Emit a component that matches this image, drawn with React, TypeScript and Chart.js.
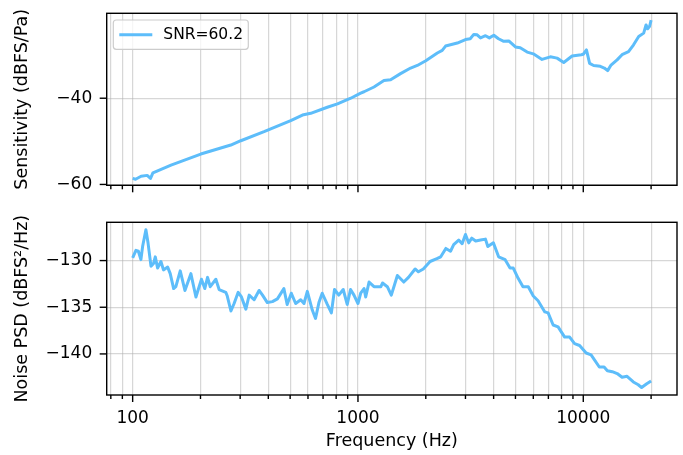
import React, { useEffect, useRef } from "react";
import { Chart, registerables } from "chart.js";

Chart.register(...registerables);

// ---- data ----
const sensFreq = [100, 103, 109, 116, 120, 123, 148, 200.6, 272.7, 302, 383, 503, 567, 617, 731, 811, 929, 1028, 1064, 1178, 1304, 1396, 1545, 1713, 1834, 2000, 2250, 2366, 2448, 2760, 3000, 3150, 3266, 3380, 3499, 3683, 3830, 4009, 4205, 4437, 4670, 5000, 5250, 5636, 6000, 6561, 7144, 7652, 8190, 8920, 9800, 10000, 10330, 10670, 11120, 11900, 12400, 12830, 13280, 14130, 14860, 15880, 16720, 17620, 18540, 18990, 19300, 19700, 20000];
const sensValues = [-58.6, -58.8, -58.1, -57.9, -58.6, -57.3, -55.5, -52.95, -50.86, -49.86, -47.77, -45.2, -43.9, -43.5, -42.1, -41.3, -40.0, -38.8, -38.5, -37.4, -35.9, -35.7, -34.3, -33.0, -32.4, -31.3, -29.5, -28.9, -27.9, -27.2, -26.4, -26.2, -25.2, -25.3, -26.0, -25.5, -26.0, -25.4, -26.2, -26.8, -26.7, -28.1, -28.3, -29.3, -29.7, -31.0, -30.4, -30.7, -31.7, -30.2, -29.9, -29.8, -28.8, -31.9, -32.4, -32.6, -33.0, -33.6, -32.3, -31.1, -29.9, -29.2, -27.6, -25.7, -24.9, -23.0, -23.9, -23.3, -21.9];

const noiseFreq = [100, 103.4, 106, 108.8, 110.7, 114.5, 117, 120.6, 123.8, 126, 129, 133.5, 137, 143, 146.8, 152, 155.5, 162.6, 170.6, 181.3, 190.9, 202, 209, 215, 221, 234, 242, 259, 263, 273, 282, 294, 304, 318, 329, 346, 364, 377, 396, 417, 439, 469, 485, 506, 529, 557, 576, 596, 627, 648, 671, 694, 731, 762, 787, 822, 860, 896, 927, 960, 1000, 1028, 1064, 1082, 1120, 1178, 1264, 1285, 1350, 1406, 1496, 1597, 1676, 1793, 1855, 1950, 2090, 2240, 2330, 2455, 2575, 2660, 2800, 2900, 3000, 3100, 3200, 3330, 3500, 3680, 3770, 3990, 4210, 4500, 4730, 4890, 5140, 5400, 5700, 6000, 6300, 6750, 6980, 7350, 7730, 8270, 8700, 9150, 9630, 10300, 10830, 11780, 12370, 12790, 13450, 14140, 14870, 15640, 16680, 17540, 18150, 19130, 20000];
const noiseValues = [-129.7, -128.9, -129.0, -129.9, -128.5, -126.7, -128.1, -130.6, -130.3, -129.6, -130.8, -130.1, -131.0, -130.7, -131.4, -133.0, -132.8, -131.1, -133.2, -131.4, -133.9, -132.0, -133.0, -131.8, -132.8, -132.0, -133.1, -133.4, -133.8, -135.4, -134.6, -133.4, -133.9, -135.2, -133.7, -134.2, -133.2, -133.7, -134.5, -134.4, -134.1, -133.0, -134.7, -133.5, -134.6, -134.2, -134.6, -133.3, -135.3, -136.2, -134.5, -133.5, -134.7, -135.6, -133.1, -133.7, -133.1, -134.7, -133.1, -133.7, -134.6, -133.5, -133.0, -133.9, -132.3, -132.8, -132.8, -132.4, -132.8, -133.7, -131.6, -132.3, -131.8, -130.9, -131.2, -130.9, -130.1, -129.8, -129.6, -128.7, -129.0, -128.3, -127.8, -128.2, -127.2, -128.1, -127.6, -127.9, -127.8, -127.7, -128.5, -128.1, -129.6, -129.9, -130.8, -130.8, -131.9, -132.8, -132.8, -133.8, -134.3, -135.5, -135.6, -136.9, -137.1, -138.2, -138.2, -138.9, -139.1, -139.9, -140.1, -141.4, -141.4, -141.8, -141.9, -142.1, -142.5, -142.4, -143.0, -143.3, -143.6, -143.2, -142.9];

const xMajorTicks = [100, 1000, 10000];
const xMinorTicks = [80, 90, 200, 300, 400, 500, 600, 700, 800, 900, 2000, 3000, 4000, 5000, 6000, 7000, 8000, 9000, 20000];
const topYTicks = [-60, -40];
const bottomYTicks = [-140, -135, -130];
const legendLabel = "SNR=60.2";
const xTitle = "Frequency (Hz)";
const topYTitle = "Sensitivity (dBFS/Pa)";
const bottomYTitle = "Noise PSD (dBFS²/Hz)";

const X_MIN = 76.7;
const X_MAX = 26060;

const LINE_COLOR = "#5dbdfa";
const GRID_COLOR = "rgba(176,176,176,0.5)";
const FONT = "'DejaVu Sans', sans-serif";
const W = 683;
const TOP_H = 205;
const BOT_H = 250;

const allXTicks = [...xMinorTicks, ...xMajorTicks].sort((a, b) => a - b);
const fmt = (v: number) => String(v).replace("-", "\u2212");

const framePlugin = {
  id: "frameTicks",
  afterDraw(chart: any) {
    const { ctx, chartArea } = chart;
    const { left, right, top, bottom } = chartArea;
    const xs = chart.scales.x;
    const ys = chart.scales.y;
    ctx.save();
    ctx.strokeStyle = "#000";
    ctx.lineWidth = 1.4;
    for (const v of allXTicks) {
      const px = xs.getPixelForValue(v);
      if (px < left - 0.5 || px > right + 0.5) continue;
      const len = xMajorTicks.includes(v) ? 7 : 4;
      ctx.beginPath();
      ctx.moveTo(px, bottom);
      ctx.lineTo(px, bottom + len);
      ctx.stroke();
    }
    for (const t of ys.ticks) {
      const py = ys.getPixelForValue(t.value);
      ctx.beginPath();
      ctx.moveTo(left, py);
      ctx.lineTo(left - 7, py);
      ctx.stroke();
    }
    ctx.strokeRect(left, top, right - left, bottom - top);
    ctx.restore();
  },
};

const legendPlugin = {
  id: "boxLegend",
  afterDraw(chart: any) {
    if (!chart.options.plugins.boxLegend?.show) return;
    const { ctx, chartArea } = chart;
    const x0 = chartArea.left + 6.6;
    const y0 = chartArea.top + 6.7;
    const w = 135;
    const h = 29.3;
    const r = 3;
    ctx.save();
    ctx.beginPath();
    ctx.moveTo(x0 + r, y0);
    ctx.arcTo(x0 + w, y0, x0 + w, y0 + h, r);
    ctx.arcTo(x0 + w, y0 + h, x0, y0 + h, r);
    ctx.arcTo(x0, y0 + h, x0, y0, r);
    ctx.arcTo(x0, y0, x0 + w, y0, r);
    ctx.closePath();
    ctx.fillStyle = "rgba(255,255,255,0.8)";
    ctx.fill();
    ctx.strokeStyle = "#cccccc";
    ctx.lineWidth = 1.2;
    ctx.stroke();
    const ly = y0 + h / 2;
    ctx.strokeStyle = LINE_COLOR;
    ctx.lineWidth = 3;
    ctx.beginPath();
    ctx.moveTo(x0 + 6, ly);
    ctx.lineTo(x0 + 39, ly);
    ctx.stroke();
    ctx.fillStyle = "#000";
    ctx.font = `15.5px ${FONT}`;
    ctx.textBaseline = "middle";
    ctx.textAlign = "left";
    ctx.fillText(legendLabel, x0 + 50, ly + 0.5);
    ctx.restore();
  },
};

function makeConfig(
  freq: number[],
  vals: number[],
  yMin: number,
  yMax: number,
  yTicks: number[],
  yTitle: string,
  isBottom: boolean,
  padTop: number,
  xHeight: number
): any {
  return {
    type: "line",
    data: {
      datasets: [
        {
          label: legendLabel,
          data: freq.map((f, i) => ({ x: f, y: vals[i] })),
          borderColor: LINE_COLOR,
          borderWidth: 3,
          pointRadius: 0,
          tension: 0,
          fill: false,
          borderJoinStyle: "round",
        },
      ],
    },
    options: {
      animation: false,
      responsive: false,
      devicePixelRatio: 1,
      layout: { padding: { left: 0, right: 6, top: padTop, bottom: 0 } },
      plugins: {
        legend: { display: false },
        tooltip: { enabled: false },
        boxLegend: { show: !isBottom },
      },
      scales: {
        x: {
          type: "logarithmic",
          min: X_MIN,
          max: X_MAX,
          bounds: "data",
          afterBuildTicks: (s: any) => {
            s.ticks = allXTicks.map((v) => ({ value: v, major: xMajorTicks.includes(v) }));
          },
          afterFit: (s: any) => {
            s.height = xHeight;
            s.paddingLeft = 0;
            s.paddingRight = 0;
            s.paddingTop = 0;
            s.paddingBottom = 0;
          },
          grid: { color: GRID_COLOR, lineWidth: 1.2, drawTicks: false },
          border: { display: false },
          ticks: {
            display: isBottom,
            autoSkip: false,
            maxRotation: 0,
            padding: 13.8,
            color: "#000",
            font: { family: FONT, size: 17 },
            callback: (v: any) => (xMajorTicks.includes(Number(v)) ? String(v) : ""),
          },
          title: {
            display: isBottom,
            text: xTitle,
            color: "#000",
            font: { family: FONT, size: 17.5 },
            padding: { top: 0, bottom: 3 },
          },
        },
        y: {
          type: "linear",
          min: yMin,
          max: yMax,
          bounds: "data",
          afterBuildTicks: (s: any) => {
            s.ticks = yTicks.map((v) => ({ value: v }));
          },
          afterFit: (s: any) => {
            s.width = 106.7;
            s.paddingLeft = 0;
            s.paddingRight = 0;
            s.paddingTop = 0;
            s.paddingBottom = 0;
          },
          grid: { color: GRID_COLOR, lineWidth: 1.2, drawTicks: false },
          border: { display: false },
          ticks: {
            padding: 14.5,
            color: "#000",
            font: { family: FONT, size: 17 },
            callback: (v: any) => fmt(Number(v)),
          },
          title: {
            display: true,
            text: yTitle,
            color: "#000",
            font: { family: FONT, size: 17.5 },
            padding: { top: 12, bottom: 0 },
          },
        },
      },
    },
    plugins: [framePlugin, legendPlugin],
  };
}

export default function App() {
  const topRef = useRef<HTMLCanvasElement>(null);
  const botRef = useRef<HTMLCanvasElement>(null);

  useEffect(() => {
    const top = new Chart(
      topRef.current as HTMLCanvasElement,
      makeConfig(sensFreq, sensValues, -60.2, -20.3, topYTicks, topYTitle, false, 13.3, TOP_H - 185.3)
    );
    const bot = new Chart(
      botRef.current as HTMLCanvasElement,
      makeConfig(noiseFreq, noiseValues, -144.4, -125.9, bottomYTicks, bottomYTitle, true, 222.3 - TOP_H, BOT_H - (395 - TOP_H))
    );
    return () => {
      top.destroy();
      bot.destroy();
    };
  }, []);

  return (
    <div style={{ position: "absolute", left: 0, top: 0, width: W, height: TOP_H + BOT_H, background: "#fff" }}>
      <canvas ref={topRef} width={W} height={TOP_H} style={{ position: "absolute", left: 0, top: 0 }} />
      <canvas ref={botRef} width={W} height={BOT_H} style={{ position: "absolute", left: 0, top: TOP_H }} />
    </div>
  );
}
